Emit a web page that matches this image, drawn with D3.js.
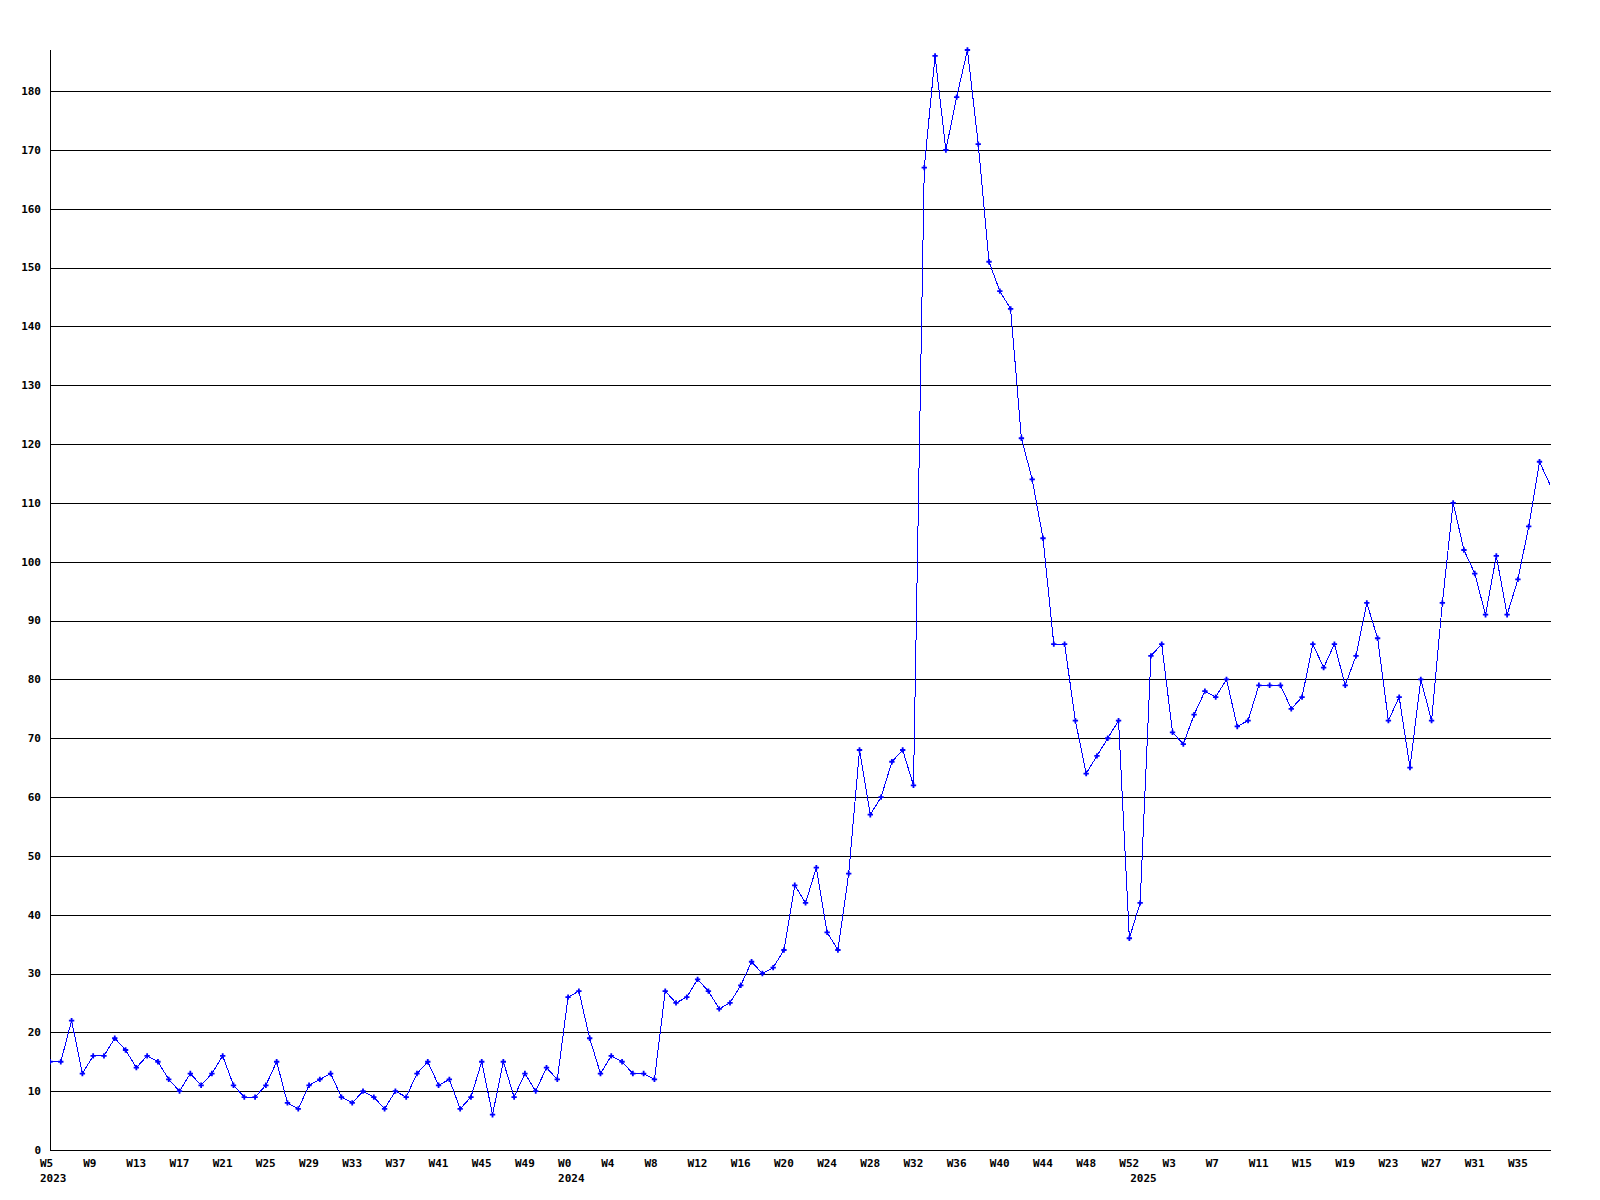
<!DOCTYPE html>
<html>
<head>
<meta charset="utf-8">
<script src="https://cdn.jsdelivr.net/npm/d3@7"></script>
<style>
  body { margin: 0; background: #fff; }
  text { font-family: "DejaVu Sans Mono", monospace; font-weight: bold; font-size: 11px; fill: #000; }
</style>
</head>
<body>
<div id="chart"></div>
<script>
// weekly counts, 2023 W5 .. 2025 W38
var counts2023 = [15,15,22,13,16,16,19,17,14,16, 15,12,10,13,11,13,16,11,9,9,
                  11,15,8,7,11,12,13,9,8,10, 9,7,10,9,13,15,11,12,7,9,
                  15,6,15,9,13,10,14,12];
var counts2024 = [26,27,19,13,16,15,13,13,12,27, 25,26,29,27,24,25,28,32,30,31,
                  34,45,42,48,37,34,47,68,57,60, 66,68,62,167,186,170,179,187,171,151,
                  146,143,121,114,104,86,86,73,64,67, 70,73,36];
var counts2025 = [42,84,86,71,69,74,78,77,80,72, 73,79,79,79,75,77,86,82,86,79,
                  84,93,87,73,77,65,80,73,93,110, 102,98,91,101,91,97,106,117,113];

// one label every 4th week
var weekLabels = ["W5","W9","W13","W17","W21","W25","W29","W33","W37","W41","W45","W49",
                  "W0","W4","W8","W12","W16","W20","W24","W28","W32","W36","W40","W44","W48","W52",
                  "W3","W7","W11","W15","W19","W23","W27","W31","W35"];
var yearLabels = [{ year: "2023", week: 0 }, { year: "2024", week: 48 }, { year: "2025", week: 101 }];
var yTicks = [0,10,20,30,40,50,60,70,80,90,100,110,120,130,140,150,160,170,180];

(function() {
  var values = counts2023.concat(counts2024, counts2025);

  var w = 1600, h = 1200;
  var pLeft = 50, pRight = 1551, pTop = 50, pBottom = 1150;

  var svg = d3.select("#chart").append("svg")
      .attr("width", w)
      .attr("height", h);

  var x = d3.scaleLinear().domain([0, 138]).range([pLeft, 1539.5]);
  var y = d3.scaleLinear().domain([0, d3.max(values)]).range([pBottom, pTop]);

  // grid
  svg.append("g")
    .selectAll("line")
    .data(yTicks.filter(function(d) { return d > 0; }))
    .enter().append("line")
      .attr("x1", pLeft).attr("x2", pRight)
      .attr("y1", function(d) { return Math.round(y(d)) + 0.5; })
      .attr("y2", function(d) { return Math.round(y(d)) + 0.5; })
      .attr("stroke", "#000")
      .attr("shape-rendering", "crispEdges");

  // axis lines
  svg.append("line")
      .attr("x1", pLeft + 0.5).attr("x2", pLeft + 0.5)
      .attr("y1", pTop).attr("y2", pBottom)
      .attr("stroke", "#000").attr("shape-rendering", "crispEdges");
  svg.append("line")
      .attr("x1", pLeft).attr("x2", pRight)
      .attr("y1", pBottom + 0.5).attr("y2", pBottom + 0.5)
      .attr("stroke", "#000").attr("shape-rendering", "crispEdges");

  // y labels
  svg.append("g")
    .selectAll("text")
    .data(yTicks)
    .enter().append("text")
      .attr("x", 41)
      .attr("y", function(d) { return y(d); })
      .attr("dy", "0.35em")
      .attr("text-anchor", "end")
      .text(function(d) { return d; });

  // x labels
  svg.append("g")
    .selectAll("text")
    .data(weekLabels)
    .enter().append("text")
      .attr("x", function(d, i) { return x(i * 4) - 10; })
      .attr("y", 1167)
      .text(function(d) { return d; });

  svg.append("g")
    .selectAll("text")
    .data(yearLabels)
    .enter().append("text")
      .attr("x", function(d) { return x(d.week) - 10; })
      .attr("y", 1182)
      .text(function(d) { return d.year; });

  svg.append("clipPath").attr("id", "plot")
    .append("rect")
      .attr("x", pLeft).attr("y", 0)
      .attr("width", pRight - pLeft).attr("height", pBottom + 1);

  var line = d3.line()
      .x(function(d, i) { return x(i); })
      .y(function(d) { return y(d); });

  var plot = svg.append("g").attr("clip-path", "url(#plot)");

  plot.append("path")
      .datum(values)
      .attr("d", line)
      .attr("fill", "none")
      .attr("stroke", "#0000ff")
      .attr("stroke-width", 1)
      .attr("shape-rendering", "crispEdges");

  var marker = d3.symbol().type(d3.symbolCross).size(16);

  plot.append("g")
    .selectAll("path")
    .data(values.map(function(v, i) { return { i: i, v: v }; })
                .filter(function(d) { return x(d.i) < pRight - 3; }))
    .enter().append("path")
      .attr("d", marker)
      .attr("transform", function(d) { return "translate(" + x(d.i) + "," + y(d.v) + ")"; })
      .attr("fill", "#0000ff");
})();
</script>
</body>
</html>
